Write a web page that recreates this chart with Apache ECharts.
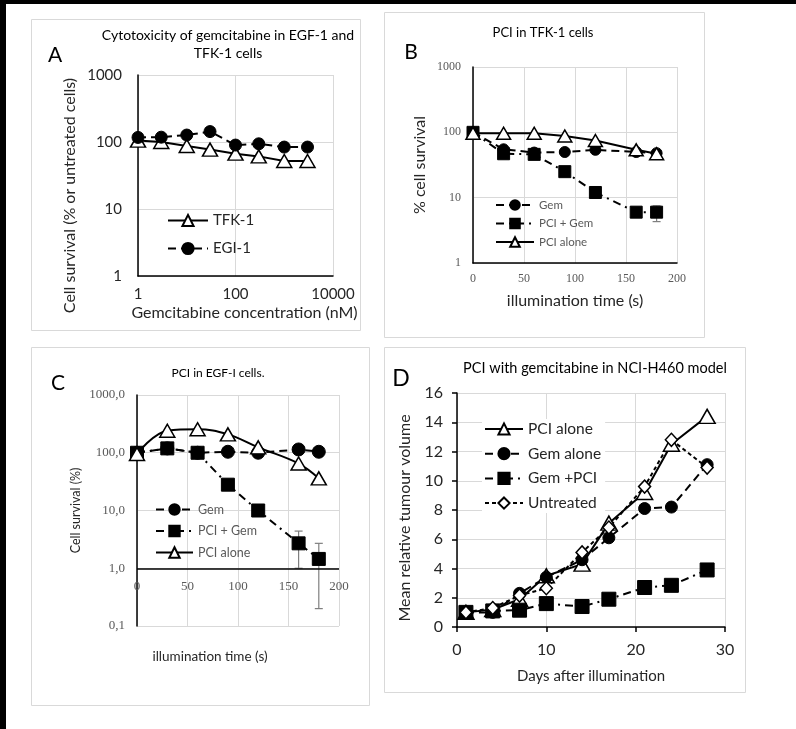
<!DOCTYPE html>
<html>
<head>
<meta charset="utf-8">
<script src="https://cdn.jsdelivr.net/npm/echarts@6/dist/echarts.min.js"></script>
<style>
  html, body { margin: 0; padding: 0; background: #fff; }
  #chart { width: 796px; height: 729px; }
</style>
</head>
<body>
<div id="chart"></div>
<script>
// Panel A: cytotoxicity vs gemcitabine concentration
const aDose = [1, 3, 10, 30, 100, 300, 1000, 3000]
const aTfk1 = [105, 100, 87, 77, 67, 61, 52, 52]
const aEgi1 = [117, 118, 127, 143, 90, 94, 84, 84]

// Panel B: PCI in TFK-1 cells
const bTime = [0, 30, 60, 90, 120, 160, 180]
const bGem = [100, 55, 49, 50, 54, 50, 48]
const bPciGem = [100, 47, 46, 25, 12, 6, 6]
const bPci = [97, 97, 97, 88, 75, 54, 47]
const bErr = [[180, 4.3, 7.5]]

// Panel C: PCI in EGF-I cells
const cTime = [0, 30, 60, 90, 120, 160, 180]
const cGem = [100, 119, 100, 104, 100, 114, 104]
const cPciGem = [100, 119, 100, 28, 10, 2.7, 1.45]
const cPci = [95, 241, 255, 208, 124, 65, 36]
const cErr = [[160, 1.0, 4.4], [180, 0.2, 2.7]]

// Panel D: tumour volume
const dDays = [1, 4, 7, 10, 14, 17, 21, 24, 28]
const dPci = [1.0, 1.2, 1.9, 3.5, 4.3, 7.1, 9.2, 12.5, 14.4]
const dGem = [1.0, 1.0, 2.3, 3.4, 4.6, 6.1, 8.1, 8.2, 11.1]
const dGemPci = [1.0, 1.1, 1.15, 1.6, 1.4, 1.9, 2.7, 2.85, 3.9]
const dUntreated = [1.0, 1.3, 2.15, 2.65, 5.1, 6.8, 9.6, 12.8, 10.9]

const FONT = 'Lato, "Liberation Sans", sans-serif'
const SERIF = '"Liberation Serif", serif'
const GRID_LINE = { show: true, lineStyle: { color: '#d9d9d9', width: 1 } }
const BLACK_AXIS = { show: true, lineStyle: { color: '#000', width: 1.5 } }

const zip = (xs, ys) => xs.map((x, i) => [x, ys[i]])

const solid = { color: '#000', width: 2, type: 'solid' }
const dashed = { color: '#000', width: 2, type: [8, 5] }
const dashDot = { color: '#000', width: 2, type: [8, 5, 2, 5] }
const shortDash = { color: '#000', width: 2, type: [4, 3] }

const openMark = { color: '#fff', borderColor: '#000', borderWidth: 1.5 }
const fillMark = { color: '#000', borderColor: '#000', borderWidth: 1 }

function lineSeries (name, idx, data, symbol, size, lineStyle, itemStyle, extra) {
  return Object.assign({
    name,
    type: 'line',
    xAxisIndex: idx,
    yAxisIndex: idx,
    data,
    symbol,
    symbolSize: size,
    showAllSymbol: true,
    lineStyle,
    itemStyle,
    emphasis: { disabled: true },
    animation: false
  }, extra || {})
}

// error bars drawn through the axis scales
function errorSeries (idx, data) {
  return {
    type: 'custom',
    xAxisIndex: idx,
    yAxisIndex: idx,
    data,
    z: 1,
    animation: false,
    renderItem: (params, api) => {
      const x = api.value(0)
      const lo = api.coord([x, api.value(1)])
      const hi = api.coord([x, api.value(2)])
      const w = 4
      const st = { stroke: '#7f7f7f', lineWidth: 1.2 }
      return {
        type: 'group',
        children: [
          { type: 'line', shape: { x1: lo[0], y1: lo[1], x2: hi[0], y2: hi[1] }, style: st },
          { type: 'line', shape: { x1: lo[0] - w, y1: lo[1], x2: lo[0] + w, y2: lo[1] }, style: st },
          { type: 'line', shape: { x1: hi[0] - w, y1: hi[1], x2: hi[0] + w, y2: hi[1] }, style: st }
        ]
      }
    }
  }
}

const intLabel = v => String(Math.round(v))
const commaLabel = v => (Math.round(v * 10) / 10).toFixed(1).replace('.', ',')

function text (x, y, str, size, color) {
  return {
    type: 'text',
    x, y,
    silent: true,
    style: {
      text: str,
      font: `${size}px ${FONT}`,
      fill: color || '#000',
      textAlign: 'center',
      textVerticalAlign: 'middle'
    }
  }
}

function box (x, y, w, h) {
  return {
    type: 'rect',
    silent: true,
    shape: { x, y, width: w, height: h },
    style: { fill: 'none', stroke: '#d9d9d9', lineWidth: 1 }
  }
}

const chart = echarts.init(document.getElementById('chart'), null, { renderer: 'canvas' })

const option = {
  backgroundColor: '#fff',
  animation: false,
  graphic: [
    { type: 'rect', silent: true, shape: { x: 0, y: 0, width: 796, height: 4 }, style: { fill: '#000' } },
    { type: 'rect', silent: true, shape: { x: 0, y: 0, width: 6, height: 729 }, style: { fill: '#000' } },
    box(31.5, 19.5, 329, 311),
    box(384.5, 12.5, 320, 325),
    box(31.5, 347.5, 338, 358),
    box(384.5, 347.5, 361, 345),
    text(228, 35, 'Cytotoxicity of gemcitabine in EGF-1 and', 14),
    text(228, 53, 'TFK-1 cells', 14),
    text(55, 55, 'A', 21),
    text(543, 33, 'PCI in TFK-1 cells', 13),
    text(411, 52, 'B', 21),
    text(218, 373, 'PCI in EGF-I cells.', 12),
    text(58, 383, 'C', 21),
    text(595, 368, 'PCI with gemcitabine in NCI-H460 model', 14.5),
    text(401, 379, 'D', 23)
  ],
  grid: [
    { left: 138, top: 75, width: 195, height: 201 },
    { left: 473, top: 67, width: 204, height: 196 },
    { left: 137, top: 395, width: 202, height: 231 },
    { left: 457, top: 393, width: 268, height: 234 }
  ],
  xAxis: [
    {
      gridIndex: 0, type: 'log', logBase: 100, min: 1, max: 10000,
      axisLine: BLACK_AXIS, axisTick: { show: false }, splitLine: GRID_LINE,
      axisLabel: { color: '#262626', fontSize: 15, fontFamily: FONT, margin: 11, formatter: intLabel },
      name: 'Gemcitabine concentration (nM)', nameLocation: 'middle', nameGap: 29,
      nameTextStyle: { color: '#262626', fontSize: 16, fontFamily: FONT, padding: [0, 0, 0, 18] }
    },
    {
      gridIndex: 1, type: 'value', min: 0, max: 200, interval: 50,
      axisLine: BLACK_AXIS, axisTick: { show: false }, splitLine: GRID_LINE,
      axisLabel: { color: '#595959', fontSize: 12, fontFamily: SERIF, margin: 10 },
      name: 'illumination time (s)', nameLocation: 'middle', nameGap: 30,
      nameTextStyle: { color: '#262626', fontSize: 16, fontFamily: FONT }
    },
    {
      gridIndex: 2, type: 'value', min: 0, max: 200, interval: 50,
      axisLine: { show: false }, axisTick: { show: false }, splitLine: GRID_LINE,
      axisLabel: { color: '#595959', fontSize: 13, fontFamily: SERIF, margin: -46 },
      name: 'illumination time (s)', nameLocation: 'middle', nameGap: 24,
      nameTextStyle: { color: '#262626', fontSize: 13.5, fontFamily: FONT, padding: [0, 56, 0, 0] }
    },
    {
      gridIndex: 3, type: 'value', min: 0, max: 30, interval: 10,
      axisLine: BLACK_AXIS, axisTick: { show: true, length: 5, lineStyle: { color: '#000', width: 1.5 } },
      splitLine: GRID_LINE,
      axisLabel: { color: '#262626', fontSize: 16, fontFamily: FONT, margin: 15 },
      name: 'Days after illumination', nameLocation: 'middle', nameGap: 42,
      nameTextStyle: { color: '#262626', fontSize: 15, fontFamily: FONT }
    }
  ],
  yAxis: [
    {
      gridIndex: 0, type: 'log', logBase: 10, min: 1, max: 1000,
      axisLine: BLACK_AXIS, axisTick: { show: false }, splitLine: GRID_LINE,
      axisLabel: { color: '#262626', fontSize: 15, fontFamily: FONT, margin: 16, formatter: intLabel },
      name: 'Cell survival (% or untreated cells)', nameLocation: 'middle', nameGap: 60,
      nameTextStyle: { color: '#262626', fontSize: 16, fontFamily: FONT, padding: [0, 40, 0, 0] }
    },
    {
      gridIndex: 1, type: 'log', logBase: 10, min: 1, max: 1000,
      axisLine: BLACK_AXIS, axisTick: { show: false }, splitLine: GRID_LINE,
      axisLabel: { color: '#595959', fontSize: 12, fontFamily: SERIF, margin: 12, formatter: intLabel },
      name: '% cell survival', nameLocation: 'middle', nameGap: 45,
      nameTextStyle: { color: '#262626', fontSize: 16, fontFamily: FONT }
    },
    {
      gridIndex: 2, type: 'log', logBase: 10, min: 0.1, max: 1000,
      axisLine: BLACK_AXIS, axisTick: { show: false }, splitLine: GRID_LINE,
      axisLabel: { color: '#595959', fontSize: 13, fontFamily: SERIF, margin: 12, formatter: commaLabel },
      name: 'Cell survival (%)', nameLocation: 'middle', nameGap: 55,
      nameTextStyle: { color: '#262626', fontSize: 12.5, fontFamily: FONT }
    },
    {
      gridIndex: 3, type: 'value', min: 0, max: 16, interval: 2,
      axisLine: BLACK_AXIS, axisTick: { show: true, length: 5, lineStyle: { color: '#000', width: 1.5 } },
      splitLine: GRID_LINE,
      axisLabel: { color: '#262626', fontSize: 16, fontFamily: FONT, margin: 14 },
      name: 'Mean relative tumour volume', nameLocation: 'middle', nameGap: 44,
      nameTextStyle: { color: '#262626', fontSize: 16, fontFamily: FONT, padding: [0, 16, 0, 0] }
    }
  ],
  legend: [
    {
      data: ['TFK-1', 'EGI-1'], left: 167, top: 213, orient: 'vertical', padding: 0,
      itemWidth: 40, itemHeight: 14, itemGap: 13,
      textStyle: { color: '#262626', fontSize: 15, fontFamily: FONT }, selectedMode: false
    },
    {
      data: ['Gem', 'PCI + Gem', 'PCI alone'], left: 495, top: 199, orient: 'vertical', padding: 0,
      itemWidth: 38, itemHeight: 12, itemGap: 6.5,
      textStyle: { color: '#595959', fontSize: 11.5, fontFamily: FONT }, selectedMode: false
    },
    {
      data: ['Gem', 'PCI + Gem', 'PCI alone'], left: 155, top: 503, orient: 'vertical', padding: 0,
      itemWidth: 37, itemHeight: 13, itemGap: 8.5,
      textStyle: { color: '#595959', fontSize: 12.5, fontFamily: FONT }, selectedMode: false
    },
    {
      data: ['PCI alone', 'Gem alone', 'Gem +PCI', 'Untreated'], left: 482, top: 419, orient: 'vertical',
      itemWidth: 38, itemHeight: 14, itemGap: 8.7, padding: [2, 4, 2, 2],
      backgroundColor: '#fff',
      textStyle: { color: '#262626', fontSize: 15.5, fontFamily: FONT }, selectedMode: false
    }
  ],
  series: [
    // A
    lineSeries('TFK-1', 0, zip(aDose, aTfk1), 'triangle', [15, 13], solid, openMark),
    lineSeries('EGI-1', 0, zip(aDose, aEgi1), 'circle', 12, dashed, fillMark),
    // B
    errorSeries(1, bErr),
    lineSeries('Gem', 1, zip(bTime, bGem), 'circle', 11, dashed, fillMark),
    lineSeries('PCI + Gem', 1, zip(bTime, bPciGem), 'rect', 12, dashDot, fillMark),
    lineSeries('PCI alone', 1, zip(bTime, bPci), 'triangle', [14, 12], solid, openMark),
    // C
    errorSeries(2, cErr),
    lineSeries('Gem', 2, zip(cTime, cGem), 'circle', 13, dashed, fillMark, {
      markLine: {
        silent: true, symbol: 'none', animation: false,
        label: { show: false },
        lineStyle: { color: '#000', width: 1.5, type: 'solid' },
        data: [{ yAxis: 1 }]
      }
    }),
    lineSeries('PCI + Gem', 2, zip(cTime, cPciGem), 'rect', 13, dashDot, fillMark),
    lineSeries('PCI alone', 2, zip(cTime, cPci), 'triangle', [15, 13], solid, openMark, { smooth: 0.4 }),
    // D
    lineSeries('PCI alone', 3, zip(dDays, dPci), 'triangle', [16, 14], solid, openMark),
    lineSeries('Gem alone', 3, zip(dDays, dGem), 'circle', 12, dashed, fillMark),
    lineSeries('Gem +PCI', 3, zip(dDays, dGemPci), 'rect', 14, dashDot, fillMark),
    lineSeries('Untreated', 3, zip(dDays, dUntreated), 'diamond', [12, 13], shortDash, openMark)
  ]
}

chart.setOption(option)

window.addEventListener('resize', () => {
  if (chart && !chart.isDisposed()) chart.resize()
})
</script>
</body>
</html>
